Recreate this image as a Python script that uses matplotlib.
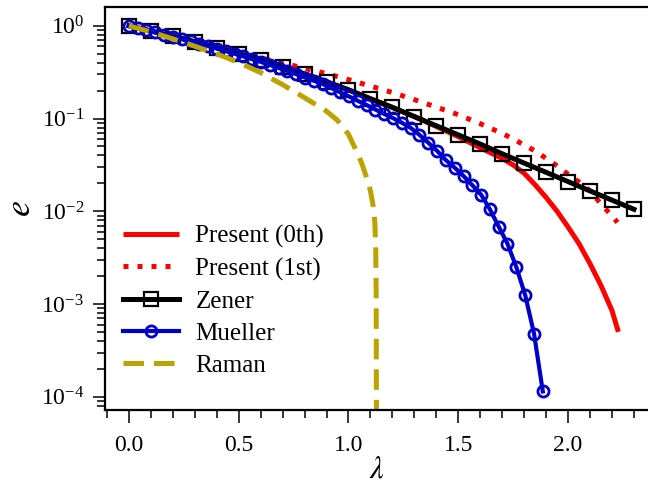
import matplotlib
matplotlib.use("Agg")
import matplotlib.pyplot as plt
from matplotlib.ticker import MultipleLocator, FormatStrFormatter, LogLocator

plt.rcParams["font.family"] = ["Liberation Serif", "DejaVu Serif"]
plt.rcParams["mathtext.fontset"] = "stix"

# Present (0th)
lam_p0 = [0.0, 0.1, 0.2, 0.3, 0.4, 0.5, 0.6, 0.7, 0.8, 0.9, 1.0, 1.1, 1.2, 1.3, 1.4,
          1.5, 1.6, 1.7, 1.75, 1.8, 1.85, 1.9, 1.95, 2.0, 2.05, 2.1, 2.15, 2.2, 2.229]
e_p0 = [1.0, 0.881, 0.773, 0.673, 0.582, 0.501, 0.429, 0.363, 0.303, 0.251, 0.204,
        0.164, 0.132, 0.105, 0.0822, 0.0638, 0.0484, 0.0372, 0.0316, 0.0257, 0.0193,
        0.0141, 0.0100, 0.00676, 0.00447, 0.00272, 0.00158, 0.000851, 0.000501]

# Present (1st)
lam_p1 = [0.0, 0.1, 0.2, 0.3, 0.4, 0.5, 0.6, 0.7, 0.8, 0.9, 1.0, 1.1, 1.2, 1.3, 1.4,
          1.5, 1.6, 1.7, 1.75, 1.8, 1.85, 1.9, 1.95, 2.0, 2.05, 2.1, 2.15, 2.2, 2.225]
e_p1 = [1.0, 0.891, 0.794, 0.692, 0.596, 0.519, 0.452, 0.398, 0.348, 0.305, 0.263,
        0.224, 0.191, 0.160, 0.133, 0.110, 0.0881, 0.0692, 0.0603, 0.0519, 0.0447,
        0.0372, 0.0309, 0.0251, 0.0207, 0.0166, 0.0120, 0.00891, 0.00759]

# Zener
lam_zener = [0.0, 0.1, 0.2, 0.3, 0.4, 0.5, 0.6, 0.7, 0.8, 0.9, 1.0, 1.1, 1.2, 1.3,
             1.4, 1.5, 1.6, 1.7, 1.8, 1.9, 2.0, 2.1, 2.2, 2.3]
e_zener = [1.0, 0.881, 0.773, 0.673, 0.582, 0.501, 0.427, 0.363, 0.302, 0.248, 0.204,
           0.163, 0.132, 0.105, 0.0836, 0.0667, 0.0531, 0.0417, 0.0331, 0.0263,
           0.0209, 0.0166, 0.0132, 0.0105]

# Mueller
lam_mueller = [0.000, 0.040, 0.080, 0.120, 0.160, 0.201, 0.241, 0.281, 0.321, 0.361,
               0.401, 0.441, 0.481, 0.521, 0.561, 0.602, 0.642, 0.682, 0.722, 0.762,
               0.802, 0.842, 0.882, 0.922, 0.962, 1.003, 1.043, 1.083, 1.123, 1.163,
               1.203, 1.243, 1.283, 1.323, 1.363, 1.404, 1.444, 1.484, 1.524, 1.564,
               1.604, 1.644, 1.684, 1.724, 1.764, 1.805, 1.845, 1.885]
e_mueller = [1.000, 0.948, 0.899, 0.851, 0.805, 0.762, 0.719, 0.679, 0.641, 0.604,
             0.569, 0.533, 0.500, 0.468, 0.437, 0.407, 0.378, 0.352, 0.326, 0.301,
             0.277, 0.256, 0.236, 0.214, 0.192, 0.173, 0.155, 0.140, 0.125, 0.112,
             0.101, 0.0902, 0.0794, 0.0668, 0.0550, 0.0447, 0.0355, 0.0295, 0.0240,
             0.0191, 0.0151, 0.0105, 0.00684, 0.00447, 0.00251, 0.00124, 0.000479,
             0.000114]

# Raman
lam_raman = [0.0, 0.1, 0.2, 0.3, 0.4, 0.5, 0.6, 0.7, 0.8, 0.9, 0.95, 1.0, 1.04, 1.06,
             1.08, 1.1, 1.113, 1.12, 1.124, 1.126, 1.127, 1.128]
e_raman = [1.0, 0.861, 0.724, 0.603, 0.498, 0.403, 0.313, 0.232, 0.168, 0.120, 0.0955,
           0.0676, 0.0427, 0.0331, 0.0240, 0.0166, 0.0112, 0.00759, 0.00398, 0.00126,
           1.0e-4, 1.0e-6]

fig = plt.figure(figsize=(6.48, 4.88), dpi=100)
ax = fig.add_axes([0.162, 0.160, 0.838, 0.826])

ax.plot(lam_p0, e_p0, color="#ff0000", lw=3.6, solid_capstyle="butt",
        label="Present (0th)")
ax.plot(lam_p1, e_p1, color="#ff0000", lw=3.6, linestyle=(0, (1.0, 1.8)),
        label="Present (1st)")
ax.plot(lam_zener, e_zener, color="black", lw=3.6, marker="s", ms=10,
        mfc="none", mec="black", mew=1.6, label="Zener")
ax.plot(lam_mueller, e_mueller, color="#0000cc", lw=3.0, marker="o", ms=8,
        mfc="none", mec="#0000cc", mew=2.0, label="Mueller")
ax.plot(lam_raman, e_raman, color="#bba300", lw=3.6, linestyle=(0, (4.1, 2.0)),
        label="Raman")

ax.set_yscale("log")
ax.set_xlim(-0.109, 2.364)
ax.set_ylim(10 ** -4.142, 10 ** 0.205)

ax.xaxis.set_major_locator(MultipleLocator(0.5))
ax.xaxis.set_minor_locator(MultipleLocator(0.1))
ax.xaxis.set_major_formatter(FormatStrFormatter("%.1f"))
ax.yaxis.set_major_locator(LogLocator(base=10, numticks=10))
ax.yaxis.set_minor_locator(LogLocator(base=10, subs=range(2, 10), numticks=20))

ax.spines["right"].set_visible(False)
for s in ("left", "bottom", "top"):
    ax.spines[s].set_linewidth(1.6)

ax.tick_params(which="both", direction="out", top=False, right=False,
               labelsize=17, width=1.1)
ax.tick_params(which="major", length=9)
ax.tick_params(axis="x", which="major", pad=9)
ax.tick_params(axis="y", which="major", pad=6)
ax.tick_params(which="minor", length=5.5)

ax.set_xlabel(r"$\lambda$", fontsize=22, labelpad=0)
ax.set_ylabel(r"$e$", fontsize=26, labelpad=2)

ax.legend(loc="upper left", bbox_to_anchor=(0.01, 0.49), frameon=False,
          fontsize=18, handlelength=2.25, handletextpad=0.65, labelspacing=0.38,
          borderpad=0, numpoints=1)

fig.savefig("out.png", dpi=100)
